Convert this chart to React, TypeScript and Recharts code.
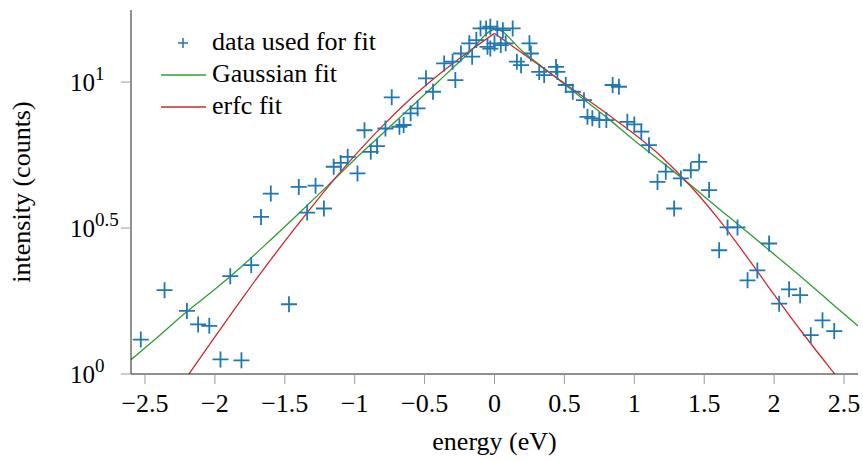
import React from "react";
import {
  ComposedChart,
  XAxis,
  YAxis,
  Line,
  Scatter,
  Label,
} from "recharts";

// measured points: energy (eV) and log10(counts)
const dataX = [
  -2.53, -2.36, -2.2, -2.12, -2.04, -1.96, -1.89, -1.81, -1.74, -1.67, -1.6, -1.47,
  -1.4, -1.34, -1.28, -1.22, -1.15, -1.1, -1.05, -0.98, -0.93, -0.885, -0.84, -0.78,
  -0.735, -0.68, -0.65, -0.6, -0.55, -0.49, -0.44, -0.36, -0.3, -0.28, -0.24, -0.18,
  -0.16, -0.13, -0.1, -0.06, -0.05, -0.03, -0.03, 0.0, 0.02, 0.045, 0.06, 0.08, 0.13,
  0.16, 0.19, 0.25, 0.26, 0.32, 0.355, 0.44, 0.45, 0.51, 0.56, 0.64, 0.665, 0.7, 0.75,
  0.8, 0.845, 0.89, 0.95, 1.0, 1.05, 1.105, 1.166, 1.225, 1.285, 1.333, 1.404, 1.464,
  1.535, 1.607, 1.667, 1.738, 1.81, 1.88, 1.964, 2.036, 2.107, 2.186, 2.262, 2.346, 2.43,
];
const dataLog = [
  0.118, 0.287, 0.216, 0.17, 0.165, 0.05, 0.335, 0.047, 0.373, 0.538, 0.618, 0.239,
  0.641, 0.553, 0.645, 0.567, 0.71, 0.723, 0.744, 0.687, 0.835, 0.761, 0.781, 0.841,
  0.948, 0.847, 0.853, 0.893, 0.91, 1.013, 0.967, 1.064, 1.07, 1.007, 1.098, 1.133,
  1.087, 1.144, 1.184, 1.184, 1.121, 1.19, 1.115, 1.133, 1.184, 1.127, 1.178, 1.133, 1.184,
  1.07, 1.058, 1.133, 1.098, 1.035, 1.024, 1.052, 1.035, 0.99, 0.967, 0.938, 0.881, 0.876, 0.87,
  0.87, 0.99, 0.984, 0.864, 0.855, 0.83, 0.784, 0.658, 0.693, 0.567, 0.67, 0.698, 0.727,
  0.63, 0.424, 0.502, 0.502, 0.321, 0.355, 0.447, 0.241, 0.29, 0.27, 0.133, 0.184, 0.147,
];

const gaussX = [
  -2.6, -2.4, -2.2, -2.0, -1.8, -1.6, -1.4, -1.2, -1.0, -0.8, -0.6, -0.4, -0.2, 0.01,
  0.2, 0.4, 0.6, 0.8, 1.0, 1.2, 1.4, 1.6, 1.8, 2.0, 2.2, 2.4, 2.6,
];
const gaussLog = [
  0.049, 0.13, 0.214, 0.29, 0.372, 0.46, 0.55, 0.642, 0.735, 0.824, 0.913, 1.003, 1.092, 1.181,
  1.106, 1.03, 0.955, 0.88, 0.8, 0.725, 0.648, 0.568, 0.49, 0.41, 0.33, 0.247, 0.165,
];

const erfcLeftX = [-2.2, -2.0, -1.8, -1.6, -1.4, -1.2, -1.0, -0.8, -0.6, -0.4, -0.2, 0.0];
const erfcLeftLog = [-0.01, 0.127, 0.262, 0.392, 0.516, 0.636, 0.748, 0.85, 0.943, 1.025, 1.099, 1.167];
const erfcRightX = [0.0, 0.2, 0.4, 0.6, 0.8, 1.0, 1.2, 1.4, 1.6, 1.8, 2.0, 2.2, 2.4, 2.5];
const erfcRightLog = [1.167, 1.099, 1.03, 0.962, 0.893, 0.822, 0.742, 0.645, 0.532, 0.405, 0.272, 0.143, 0.02, -0.04];

const xTicks = [-2.5, -2, -1.5, -1, -0.5, 0, 0.5, 1, 1.5, 2, 2.5];
const yTickExponents = [0, 0.5, 1];
const yTopExponent = 1.247;

const FONT = "Liberation Serif";
const FS = 25;
const BLUE = "#1f77b4";
const GREEN = "#2ca02c";
const RED = "#d62728";

const points = dataX.map((x, i) => ({ x, y: 10 ** dataLog[i] }));
const gaussCurve = gaussX.map((x, i) => ({ x, y: 10 ** gaussLog[i] }));
const erfcLeft = erfcLeftX.map((x, i) => ({ x, y: 10 ** erfcLeftLog[i] }));
const erfcRight = erfcRightX.map((x, i) => ({ x, y: 10 ** erfcRightLog[i] }));
const yTicks = yTickExponents.map((e) => 10 ** e);

const Plus = (props: any) => {
  const { cx, cy } = props;
  if (cx == null || cy == null) return null;
  return (
    <path
      d={`M${cx - 8},${cy}h16M${cx},${cy - 8}v16`}
      stroke={BLUE}
      strokeWidth={1.8}
      fill="none"
    />
  );
};

const YTick = ({ y, payload }: any) => {
  const exp = Math.round(Math.log10(payload.value) * 2) / 2;
  return (
    <text x={70} y={y + 9} fontSize={FS} fontFamily={FONT} fill="#000">
      10
      <tspan dy={-11} fontSize={19}>
        {String(exp)}
      </tspan>
    </text>
  );
};

const Blank = () => <g />;

const fmtX = (v: number) => String(v).replace("-", "\u2212");

export default function App() {
  return (
    <div style={{ position: "absolute", left: 0, top: 0, width: 863, height: 461, background: "#fff" }}>
      <ComposedChart
        width={863}
        height={461}
        margin={{ top: 10, right: 5, bottom: 0, left: 0 }}
        style={{ fontFamily: FONT }}
      >
        <XAxis
          dataKey="x"
          type="number"
          domain={[-2.6, 2.6]}
          ticks={xTicks}
          tickFormatter={fmtX}
          allowDataOverflow
          height={87}
          tickSize={10}
          tickMargin={10}
          tick={{ fill: "#000", fontSize: 26, fontFamily: FONT }}
          tickLine={{ stroke: "#999" }}
          axisLine={{ stroke: "#222" }}
        >
          <Label
            content={({ viewBox }: any) => (
              <text
                x={viewBox.x + viewBox.width / 2}
                y={viewBox.y + 76}
                textAnchor="middle"
                fontSize={26}
                fontFamily={FONT}
                fill="#000"
              >
                energy (eV)
              </text>
            )}
          />
        </XAxis>
        <XAxis
          xAxisId="top"
          orientation="top"
          dataKey="x"
          type="number"
          domain={[-2.6, 2.6]}
          ticks={xTicks}
          allowDataOverflow
          height={0}
          tickSize={10}
          tick={Blank}
          tickLine={{ stroke: "#999" }}
          axisLine={{ stroke: "#222" }}
        />
        <YAxis
          scale="log"
          type="number"
          domain={[1, 10 ** yTopExponent]}
          ticks={yTicks}
          allowDataOverflow
          width={131}
          tickSize={10}
          tick={YTick}
          tickLine={{ stroke: "#999" }}
          axisLine={{ stroke: "#222" }}
        >
          <Label
            content={({ viewBox }: any) => {
              const cx = 30;
              const cy = viewBox.y + viewBox.height / 2;
              return (
                <text
                  x={cx}
                  y={cy}
                  transform={`rotate(-90 ${cx} ${cy})`}
                  textAnchor="middle"
                  fontSize={26}
                  fontFamily={FONT}
                  fill="#000"
                >
                  intensity (counts)
                </text>
              );
            }}
          />
        </YAxis>
        <YAxis
          yAxisId="right"
          orientation="right"
          scale="log"
          type="number"
          domain={[1, 10 ** yTopExponent]}
          ticks={yTicks}
          allowDataOverflow
          width={0}
          tickSize={10}
          tick={Blank}
          tickLine={{ stroke: "#999" }}
          axisLine={{ stroke: "#222" }}
        />
        <Line
          data={gaussCurve}
          dataKey="y"
          type="monotone"
          stroke={GREEN}
          strokeWidth={1.3}
          dot={false}
          isAnimationActive={false}
        />
        <Line
          data={erfcLeft}
          dataKey="y"
          type="monotone"
          stroke={RED}
          strokeWidth={1.3}
          dot={false}
          isAnimationActive={false}
        />
        <Line
          data={erfcRight}
          dataKey="y"
          type="monotone"
          stroke={RED}
          strokeWidth={1.3}
          dot={false}
          isAnimationActive={false}
        />
        <Scatter data={points} dataKey="y" shape={Plus} isAnimationActive={false} />
      </ComposedChart>
      <svg
        width={300}
        height={110}
        style={{ position: "absolute", left: 150, top: 20, overflow: "visible" }}
      >
        <path d="M28,23h10M33,18v10" stroke={BLUE} strokeWidth={1.5} />
        <text x={62} y={30} fontSize={26} fontFamily={FONT} fill="#000">
          data used for fit
        </text>
        <line x1={11} x2={56} y1={55} y2={55} stroke={GREEN} strokeWidth={1.3} />
        <text x={62} y={62} fontSize={26} fontFamily={FONT} fill="#000">
          Gaussian fit
        </text>
        <line x1={11} x2={56} y1={87} y2={87} stroke={RED} strokeWidth={1.3} />
        <text x={62} y={94} fontSize={26} fontFamily={FONT} fill="#000">
          erfc fit
        </text>
      </svg>
    </div>
  );
}
